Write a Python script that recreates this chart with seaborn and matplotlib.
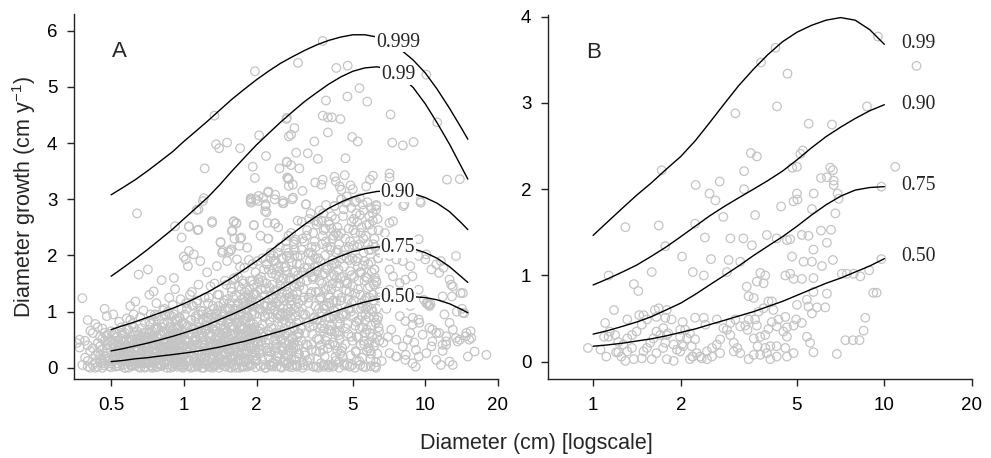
import matplotlib
matplotlib.use("Agg")
import matplotlib.pyplot as plt
import seaborn as sns

# ---------------- Panel A: observed trees ----------------
diam_a = [
    # small stems, below 0.5 cm
    0.37, 0.38, 0.39, 0.40, 0.40, 0.41, 0.42, 0.42, 0.43, 0.43,
    0.44, 0.44, 0.45, 0.45, 0.46, 0.46, 0.47, 0.47, 0.48, 0.48,
    0.49, 0.49, 0.39, 0.41, 0.45, 0.47, 0.40, 0.44, 0.46, 0.48,
    0.37, 0.42, 0.43, 0.49, 0.41, 0.46, 0.38, 0.44, 0.48, 0.36,
    # 0.5 - 0.7 cm
    0.50, 0.51, 0.52, 0.52, 0.53, 0.54, 0.55, 0.55, 0.56, 0.57,
    0.57, 0.58, 0.59, 0.60, 0.60, 0.61, 0.62, 0.62, 0.63, 0.64,
    0.64, 0.65, 0.65, 0.66, 0.67, 0.67, 0.68, 0.68, 0.69, 0.69,
    0.51, 0.53, 0.54, 0.56, 0.58, 0.59, 0.61, 0.63, 0.66, 0.68,
    0.50, 0.52, 0.55, 0.57, 0.60, 0.62, 0.64, 0.66, 0.69, 0.70,
    0.53, 0.56, 0.58, 0.61, 0.63, 0.65, 0.67, 0.70, 0.54, 0.60,
    0.52, 0.55, 0.59, 0.62, 0.64, 0.67, 0.69, 0.58, 0.63, 0.66,
    0.51, 0.57, 0.60, 0.65, 0.68, 0.56, 0.62, 0.70, 0.54, 0.59,
    # 0.7 - 1 cm
    0.71, 0.72, 0.72, 0.73, 0.74, 0.75, 0.75, 0.76, 0.77, 0.78,
    0.79, 0.80, 0.81, 0.81, 0.82, 0.83, 0.84, 0.85, 0.85, 0.86,
    0.87, 0.88, 0.89, 0.90, 0.91, 0.91, 0.92, 0.93, 0.94, 0.95,
    0.96, 0.97, 0.98, 0.99, 0.73, 0.76, 0.79, 0.82, 0.86, 0.89,
    0.92, 0.95, 0.98, 0.71, 0.74, 0.77, 0.80, 0.83, 0.87, 0.90,
    0.93, 0.96, 0.99, 0.72, 0.75, 0.78, 0.81, 0.84, 0.88, 0.91,
    0.94, 0.97, 0.74, 0.77, 0.80, 0.83, 0.86, 0.89, 0.92, 0.95,
    0.98, 0.71, 0.76, 0.79, 0.82, 0.85, 0.88, 0.91, 0.94, 0.97,
    0.73, 0.78, 0.84, 0.90, 0.96, 0.75, 0.81, 0.87, 0.93, 0.99,
    0.72, 0.77, 0.83, 0.89, 0.95, 0.74, 0.80, 0.86, 0.92, 0.98,
    # 1 - 1.5 cm
    1.00, 1.01, 1.02, 1.03, 1.04, 1.05, 1.06, 1.07, 1.08, 1.09,
    1.10, 1.11, 1.12, 1.13, 1.14, 1.15, 1.16, 1.17, 1.18, 1.19,
    1.20, 1.21, 1.22, 1.23, 1.24, 1.25, 1.26, 1.27, 1.28, 1.29,
    1.30, 1.31, 1.32, 1.33, 1.34, 1.35, 1.36, 1.37, 1.38, 1.39,
    1.40, 1.41, 1.42, 1.43, 1.44, 1.45, 1.46, 1.47, 1.48, 1.49,
    1.02, 1.05, 1.08, 1.11, 1.14, 1.17, 1.20, 1.23, 1.26, 1.29,
    1.32, 1.35, 1.38, 1.41, 1.44, 1.47, 1.01, 1.04, 1.07, 1.10,
    1.13, 1.16, 1.19, 1.22, 1.25, 1.28, 1.31, 1.34, 1.37, 1.40,
    1.43, 1.46, 1.49, 1.03, 1.06, 1.09, 1.12, 1.15, 1.18, 1.21,
    1.24, 1.27, 1.30, 1.33, 1.36, 1.39, 1.42, 1.45, 1.48, 1.00,
    1.05, 1.12, 1.19, 1.26, 1.33, 1.40, 1.47, 1.09, 1.23, 1.37,
    # 1.5 - 2 cm
    1.50, 1.51, 1.52, 1.53, 1.54, 1.55, 1.56, 1.57, 1.58, 1.59,
    1.60, 1.61, 1.62, 1.63, 1.64, 1.65, 1.66, 1.67, 1.68, 1.69,
    1.70, 1.71, 1.72, 1.73, 1.74, 1.75, 1.76, 1.77, 1.78, 1.79,
    1.80, 1.81, 1.82, 1.83, 1.84, 1.85, 1.86, 1.87, 1.88, 1.89,
    1.90, 1.91, 1.92, 1.93, 1.94, 1.95, 1.96, 1.97, 1.98, 1.99,
    1.52, 1.55, 1.58, 1.61, 1.64, 1.67, 1.70, 1.73, 1.76, 1.79,
    1.82, 1.85, 1.88, 1.91, 1.94, 1.97, 1.50, 1.53, 1.56, 1.59,
    1.62, 1.65, 1.68, 1.71, 1.74, 1.77, 1.80, 1.83, 1.86, 1.89,
    1.92, 1.95, 1.98, 1.54, 1.60, 1.66, 1.72, 1.78, 1.84, 1.90,
    1.96, 1.57, 1.63, 1.69, 1.75, 1.81, 1.87, 1.93, 1.99, 1.51,
    # 2 - 3 cm
    2.00, 2.02, 2.04, 2.06, 2.08, 2.10, 2.12, 2.14, 2.16, 2.18,
    2.17, 2.20, 2.22, 2.24, 2.26, 2.28, 2.30, 2.32, 2.34, 2.36,
    2.38, 2.39, 2.40, 2.42, 2.44, 2.46, 2.48, 2.50, 2.52, 2.54,
    2.56, 2.58, 2.59, 2.60, 2.62, 2.64, 2.66, 2.67, 2.68, 2.70,
    2.72, 2.74, 2.76, 2.78, 2.80, 2.82, 2.84, 2.86, 2.88, 2.90,
    2.92, 2.94, 2.96, 2.98, 2.01, 2.05, 2.09, 2.13, 2.17, 2.21,
    2.25, 2.29, 2.33, 2.37, 2.41, 2.45, 2.49, 2.53, 2.57, 2.61,
    2.65, 2.69, 2.73, 2.77, 2.81, 2.85, 2.89, 2.93, 2.97, 2.03,
    2.07, 2.11, 2.15, 2.19, 2.23, 2.27, 2.31, 2.35, 2.39, 2.43,
    2.47, 2.51, 2.55, 2.59, 2.63, 2.67, 2.71, 2.75, 2.79, 2.83,
    2.87, 2.91, 2.95, 2.99, 2.04, 2.14, 2.24, 2.34, 2.44, 2.54,
    2.64, 2.74, 2.84, 2.94, 2.08, 2.18, 2.28, 2.38, 2.48, 2.58,
    2.68, 2.78, 2.88, 2.98, 2.12, 2.32, 2.52, 2.72, 2.92, 2.46,
    # 3 - 4.5 cm
    3.00, 3.02, 3.05, 3.08, 3.10, 3.13, 3.15, 3.18, 3.20, 3.23,
    3.25, 3.28, 3.30, 3.33, 3.35, 3.38, 3.40, 3.43, 3.45, 3.48,
    3.50, 3.53, 3.55, 3.58, 3.60, 3.63, 3.65, 3.68, 3.70, 3.73,
    3.75, 3.78, 3.80, 3.83, 3.85, 3.88, 3.90, 3.93, 3.95, 3.98,
    4.00, 4.03, 4.05, 4.08, 4.10, 4.13, 4.15, 4.18, 4.20, 4.23,
    4.25, 4.28, 4.30, 4.33, 4.35, 4.38, 4.40, 4.43, 4.45, 4.48,
    3.01, 3.07, 3.12, 3.17, 3.22, 3.27, 3.32, 3.37, 3.42, 3.47,
    3.52, 3.57, 3.62, 3.67, 3.72, 3.77, 3.82, 3.87, 3.92, 3.97,
    4.02, 4.07, 4.12, 4.17, 4.22, 4.27, 4.32, 4.37, 4.42, 4.47,
    3.04, 3.14, 3.24, 3.34, 3.44, 3.54, 3.64, 3.74, 3.84, 3.94,
    4.04, 4.14, 4.24, 4.34, 4.44, 3.09, 3.29, 3.49, 3.69, 3.89,
    4.09, 4.29, 4.49, 3.19, 3.39, 3.59, 3.79, 3.99, 4.19, 4.39,
    # 4.5 - 6.5 cm
    4.50, 4.53, 4.56, 4.60, 4.63, 4.66, 4.70, 4.73, 4.76, 4.80,
    4.83, 4.86, 4.90, 4.93, 4.96, 5.00, 5.03, 5.06, 5.10, 5.13,
    5.16, 5.20, 5.23, 5.26, 5.30, 5.33, 5.36, 5.40, 5.43, 5.46,
    5.50, 5.53, 5.56, 5.60, 5.63, 5.66, 5.70, 5.73, 5.76, 5.80,
    5.83, 5.86, 5.90, 5.93, 5.96, 6.00, 6.03, 6.06, 6.10, 6.13,
    6.16, 6.20, 6.23, 6.26, 6.30, 6.33, 6.36, 6.40, 6.43, 6.46,
    4.55, 4.65, 4.75, 4.85, 4.95, 5.05, 5.15, 5.25, 5.35, 5.45,
    5.55, 5.65, 5.75, 5.85, 5.95, 6.05, 6.15, 6.25, 6.35, 6.45,
    4.58, 4.68, 4.78, 4.88, 4.98, 5.08, 5.18, 5.28, 5.38, 5.48,
    5.58, 5.68, 5.78, 5.88, 5.98, 6.08, 6.18, 6.28, 6.38, 6.48,
    4.52, 4.72, 4.92, 5.12, 5.32, 5.52, 5.72, 5.92, 6.12, 6.32,
    # large stems, above 6.5 cm
    10.1, 11.1, 11.6, 10.6, 11.4, 12.6, 13.0, 14.0, 10.1, 10.7,
    11.1, 12.2, 13.0, 13.9, 14.8, 15.5, 16.0, 17.9, 11.6, 13.0,
    10.6, 12.2, 12.6, 7.84, 8.27, 8.85, 9.39, 7.23, 7.59, 8.07,
    8.66, 8.85, 9.12, 7.11, 7.59, 8.27, 9.39, 7.11, 7.35, 7.84,
    8.27, 8.85, 8.66, 8.07, 7.59, 7.11, 7.47, 8.07, 9.39, 7.11,
    7.59, 8.07, 8.66, 9.87, 9.39, 9.39, 6.70, 6.90, 10.3, 10.4,
    12.0, 14.5, 13.5, 15.0, 6.60, 6.80, 7.00, 9.00, 11.8, 14.2,
    15.4, 14.7, 15.2, 13.4, 13.6, 12.8, 11.9, 13.4, 10.0, 12.9,
    14.3, 11.8, 8.87, 9.45, 10.4, 11.4, 10.7, 11.8, 9.75, 8.45,
    9.15, 10.1, 11.1, 12.6, 8.30, 7.57, 10.2, 10.5, 14.3, 12.2,
    # zero-growth row along the bottom
    0.40, 0.43, 0.47, 0.50, 0.53, 0.57, 0.61, 0.65, 0.69, 0.73,
    0.77, 0.81, 0.85, 0.89, 0.94, 0.99, 1.04, 1.09, 1.15, 1.21,
    1.27, 1.33, 1.40, 1.47, 1.54, 1.62, 1.70, 1.79, 1.88, 1.98,
    2.08, 2.19, 2.30, 2.42, 2.54, 2.67, 2.81, 2.95, 3.10, 3.26,
    3.43, 3.60, 3.79, 3.98, 4.18, 4.40, 4.62, 4.86, 5.11, 5.37,
    5.65, 5.94, 6.25, 0.45, 0.60, 0.83, 1.12, 1.50, 2.00, 2.70,
    # fast growers above the main cloud
    1.97, 1.34, 1.36, 1.40, 1.51, 1.71, 2.05, 2.19, 1.22, 1.93,
    1.97, 2.67, 2.72, 2.67, 2.49, 2.72, 2.72, 2.24, 2.39, 2.04,
    1.89, 1.21, 3.76, 2.97, 4.28, 4.77, 5.34, 5.75, 4.76, 3.88,
    3.76, 3.95, 4.10, 4.45, 7.18, 2.66, 2.87, 2.78, 3.95, 3.47,
    4.98, 5.25, 7.30, 8.07, 8.94, 11.2, 10.1, 2.92, 3.26, 3.59,
    2.67, 2.78, 3.01, 4.67, 4.21, 4.64, 3.76, 4.26, 2.68, 2.83,
    3.71, 4.42, 4.49, 5.01, 5.69, 6.07, 7.11, 7.11, 12.3, 13.9,
    9.51, 8.10, 4.90, 2.57, 2.83, 3.21, 4.21, 4.49, 4.70, 5.17,
    5.51, 6.27, 7.00, 8.19, 9.58, 7.10, 7.35, 3.10, 3.50, 5.90,
    2.81, 2.57, 2.38, 2.23, 2.13, 2.03, 1.90, 1.90, 2.18, 2.20,
    2.38, 1.95, 2.23, 1.61, 1.65, 1.59, 1.31, 1.15, 1.20, 0.92,
    1.05, 1.15, 0.98, 1.42, 1.62, 1.73, 1.70, 1.57, 1.45, 2.70,
]
growth_a = [
    # small stems, below 0.5 cm
    0.36, 1.24, 0.48, 0.85, 0.12, 0.30, 0.62, 0.05, 0.78, 0.22,
    0.44, 0.02, 0.55, 0.16, 0.70, 0.33, 0.08, 0.48, 0.92, 0.26,
    0.60, 0.03, 0.18, 0.66, 0.38, 1.05, 0.40, 0.72, 0.12, 0.42,
    0.50, 0.35, 0.10, 0.18, 0.00, 0.00, 0.05, 0.27, 0.58, 0.44,
    # 0.5 - 0.7 cm
    0.08, 0.95, 0.30, 0.02, 0.55, 0.18, 0.72, 0.40, 0.05, 0.26,
    0.62, 0.12, 0.45, 0.85, 0.20, 0.03, 0.35, 0.58, 1.18, 0.10,
    2.75, 0.48, 1.66, 0.25, 0.07, 0.70, 0.40, 1.02, 0.15, 0.55,
    0.42, 0.15, 0.82, 0.35, 0.50, 0.00, 0.78, 0.22, 0.90, 0.30,
    0.65, 0.48, 0.10, 0.00, 0.38, 0.12, 0.65, 0.00, 0.80, 0.20,
    0.32, 0.60, 0.25, 0.50, 0.04, 0.32, 0.55, 0.45, 0.03, 1.10,
    0.20, 0.28, 0.68, 0.08, 0.45, 0.18, 0.02, 0.88, 0.62, 0.15,
    0.58, 0.45, 0.05, 0.08, 0.62, 0.18, 0.95, 0.08, 0.38, 0.30,
    # 0.7 - 1 cm
    1.75, 0.10, 1.30, 0.45, 0.02, 1.36, 0.30, 0.68, 0.15, 0.52,
    0.85, 0.05, 1.56, 0.38, 0.20, 0.62, 0.95, 0.12, 0.48, 0.28,
    0.72, 0.00, 0.40, 1.12, 1.60, 0.18, 0.55, 0.08, 0.85, 0.32,
    0.60, 0.15, 1.05, 0.42, 0.78, 0.25, 0.35, 1.02, 0.06, 0.65,
    0.25, 0.50, 0.02, 0.55, 0.40, 0.92, 0.60, 0.10, 1.25, 0.30,
    0.70, 0.88, 0.20, 0.22, 0.58, 0.02, 0.72, 0.35, 0.50, 0.95,
    0.12, 0.45, 0.18, 1.15, 0.40, 0.50, 0.82, 0.14, 1.40, 0.05,
    0.65, 0.08, 0.12, 0.22, 0.78, 0.30, 0.60, 0.42, 0.28, 1.22,
    0.95, 0.30, 0.15, 0.02, 0.35, 0.85, 0.05, 0.38, 0.62, 0.80,
    0.62, 0.70, 1.05, 0.92, 0.70, 0.00, 0.25, 1.00, 0.45, 0.10,
    # 1 - 1.5 cm
    0.05, 0.62, 1.93, 0.28, 1.81, 2.51, 0.12, 0.85, 0.40, 1.10,
    2.02, 0.02, 0.55, 2.81, 2.45, 0.30, 0.72, 1.90, 0.18, 0.95,
    0.45, 0.08, 1.25, 0.65, 0.22, 1.70, 0.38, 0.88, 0.02, 1.45,
    0.58, 2.58, 0.15, 1.05, 0.32, 0.75, 0.05, 1.81, 0.48, 0.20,
    1.30, 0.62, 2.23, 0.10, 2.05, 0.42, 0.95, 0.25, 1.55, 0.70,
    0.35, 0.15, 1.35, 0.48, 0.02, 0.52, 1.00, 0.12, 1.15, 0.30,
    0.80, 0.05, 1.02, 0.18, 0.58, 1.20, 0.78, 0.45, 0.00, 0.25,
    1.15, 0.08, 0.62, 0.40, 0.90, 0.55, 0.00, 1.50, 0.28, 0.85,
    0.35, 0.12, 0.02, 1.05, 1.30, 0.20, 0.88, 1.48, 0.68, 0.35,
    0.05, 0.18, 0.95, 0.42, 0.65, 1.10, 0.45, 0.82, 0.38, 1.98,
    2.08, 0.50, 0.00, 0.60, 0.02, 0.08, 0.50, 0.68, 0.75, 0.40,
    # 1.5 - 2 cm
    0.10, 1.90, 0.55, 2.06, 0.28, 1.05, 2.08, 0.72, 2.43, 0.40,
    1.25, 2.60, 0.05, 0.88, 0.35, 2.58, 1.93, 0.15, 1.62, 0.60,
    0.95, 2.30, 0.22, 1.40, 0.02, 0.68, 1.15, 0.45, 1.78, 0.30,
    0.82, 0.12, 1.05, 2.14, 0.50, 1.30, 0.08, 0.62, 1.55, 2.97,
    0.38, 1.20, 0.70, 0.18, 1.48, 2.54, 0.95, 0.28, 1.70, 3.00,
    0.80, 0.20, 1.35, 0.58, 0.00, 1.10, 0.42, 0.75, 0.02, 1.02,
    0.25, 0.90, 0.45, 0.05, 0.65, 1.32, 1.48, 0.30, 0.92, 0.15,
    1.60, 0.48, 0.12, 1.80, 1.22, 0.10, 0.55, 1.38, 1.92, 0.35,
    1.00, 0.40, 0.12, 1.15, 0.30, 0.78, 0.55, 1.25, 0.02, 0.68,
    0.55, 0.00, 1.05, 0.25, 1.55, 0.40, 1.12, 1.85, 0.22, 0.65,
    # 2 - 3 cm
    0.15, 1.90, 0.65, 1.20, 2.35, 0.40, 1.55, 0.05, 0.90, 2.91,
    2.79, 1.84, 2.58, 2.30, 0.28, 1.05, 0.72, 1.68, 0.10, 0.48,
    1.38, 2.57, 1.90, 0.20, 0.95, 1.80, 0.55, 2.15, 0.02, 1.25,
    0.35, 1.60, 2.93, 0.85, 0.12, 1.45, 2.25, 1.99, 0.62, 1.05,
    0.30, 1.95, 0.78, 2.40, 1.20, 0.05, 1.70, 0.45, 2.10, 0.92,
    1.50, 0.18, 2.62, 1.15, 0.82, 0.25, 1.40, 0.62, 0.00, 1.10,
    0.50, 2.05, 0.90, 0.08, 1.65, 0.60, 1.10, 0.38, 1.95, 0.70,
    0.22, 1.35, 0.02, 1.00, 0.55, 2.20, 0.15, 0.80, 0.40, 0.45,
    1.05, 0.15, 1.75, 0.35, 0.95, 0.05, 1.30, 2.00, 0.62, 1.15,
    0.25, 1.45, 0.80, 0.10, 1.80, 0.40, 2.35, 0.65, 0.28, 1.30,
    1.05, 2.28, 0.02, 0.60, 1.58, 0.55, 0.20, 1.22, 0.12, 0.50,
    0.95, 1.55, 0.35, 1.85, 0.48, 1.40, 1.95, 0.30, 1.72, 1.10,
    0.08, 0.15, 0.68, 0.25, 1.00, 0.02, 0.95, 1.25, 0.05, 2.50,
    # 3 - 4.5 cm
    0.25, 1.85, 0.70, 2.60, 1.20, 0.05, 2.25, 0.95, 2.91, 1.55,
    0.40, 2.05, 1.00, 0.15, 2.75, 1.35, 0.60, 2.40, 0.02, 1.80,
    1.10, 0.30, 2.55, 0.85, 1.95, 0.50, 2.80, 1.25, 0.08, 2.20,
    1.65, 0.65, 2.45, 0.20, 1.40, 2.90, 0.90, 1.75, 0.35, 2.60,
    1.15, 0.05, 2.10, 0.75, 2.70, 1.50, 0.45, 2.35, 2.88, 1.00,
    0.20, 1.85, 0.62, 2.50, 1.30, 0.10, 2.20, 0.88, 1.60, 3.00,
    1.45, 0.48, 1.70, 0.28, 2.35, 0.80, 1.90, 0.42, 1.58, 0.90,
    2.15, 0.15, 1.35, 0.70, 2.62, 0.32, 1.05, 2.25, 0.55, 1.30,
    0.42, 1.62, 0.02, 1.20, 0.65, 2.05, 0.30, 1.75, 0.50, 2.40,
    2.00, 1.40, 0.12, 1.70, 0.75, 0.02, 1.55, 0.98, 2.00, 0.05,
    0.88, 1.92, 0.12, 1.05, 0.78, 0.10, 1.25, 2.62, 0.40, 1.10,
    2.48, 1.45, 0.30, 0.62, 2.15, 1.80, 0.02, 0.68, 1.85, 0.58,
    # 4.5 - 6.5 cm
    1.25, 0.35, 2.70, 1.80, 0.08, 2.30, 0.95, 3.05, 1.50, 0.60,
    2.15, 1.05, 0.22, 2.85, 1.65, 0.48, 2.45, 1.20, 2.95, 0.75,
    1.90, 0.12, 2.60, 1.40, 0.85, 2.20, 3.02, 0.40, 1.70, 2.50,
    1.10, 0.02, 2.80, 1.55, 0.62, 2.35, 1.25, 0.30, 2.95, 1.85,
    0.90, 2.55, 1.45, 0.15, 2.10, 1.70, 0.55, 2.75, 1.20, 0.38,
    2.30, 1.60, 0.80, 2.90, 1.05, 0.25, 1.95, 2.45, 0.65, 1.35,
    0.20, 1.55, 0.05, 1.35, 2.60, 0.92, 0.30, 1.95, 0.70, 1.15,
    2.05, 0.85, 1.60, 0.45, 2.85, 1.00, 1.75, 0.10, 2.65, 0.48,
    2.00, 0.70, 1.22, 2.25, 0.05, 1.62, 2.75, 0.55, 1.30, 0.18,
    0.42, 1.05, 2.20, 1.25, 0.75, 2.20, 0.02, 1.52, 0.90, 2.05,
    0.95, 1.95, 1.00, 2.40, 0.12, 1.82, 0.68, 0.30, 1.48, 0.55,
    # large stems, above 6.5 cm
    2.02, 1.84, 1.90, 1.75, 1.69, 1.57, 1.45, 1.33, 1.15, 0.68,
    0.62, 0.56, 0.68, 0.50, 0.62, 0.53, 0.29, 0.23, 0.05, 0.05,
    0.38, 0.47, 0.80, 0.92, 0.83, 0.77, 0.86, 0.68, 0.50, 0.38,
    0.62, 0.08, 0.02, 0.26, 0.20, 0.14, 0.20, 1.75, 1.63, 1.51,
    1.57, 1.63, 1.81, 1.90, 1.93, 1.99, 2.17, 2.05, 1.99, 1.39,
    1.21, 1.33, 1.10, 1.21, 1.39, 2.29, 0.45, 1.05, 1.12, 1.10,
    0.95, 0.97, 1.00, 0.20, 0.12, 2.40, 0.55, 0.45, 0.30, 1.05,
    0.65, 0.56, 0.50, 0.53, 0.47, 1.48, 1.78, 1.99, 1.93, 1.27,
    1.33, 1.27, 0.89, 0.80, 0.71, 0.62, 0.47, 0.41, 0.59, 0.50,
    0.32, 0.26, 0.14, 0.11, 0.23, 0.20, 1.15, 1.13, 0.98, 0.41,
    # zero-growth row along the bottom
    0.02, 0.00, 0.04, 0.01, 0.03, 0.00, 0.05, 0.02, 0.00, 0.04,
    0.01, 0.03, 0.00, 0.05, 0.02, 0.00, 0.03, 0.01, 0.04, 0.00,
    0.02, 0.05, 0.00, 0.03, 0.01, 0.04, 0.00, 0.02, 0.05, 0.01,
    0.03, 0.00, 0.04, 0.02, 0.00, 0.05, 0.01, 0.03, 0.00, 0.04,
    0.02, 0.00, 0.05, 0.01, 0.03, 0.00, 0.04, 0.02, 0.00, 0.05,
    0.01, 0.03, 0.00, 0.10, 0.12, 0.10, 0.12, 0.10, 0.12, 0.10,
    # fast growers above the main cloud
    5.28, 4.49, 3.98, 3.91, 4.01, 3.91, 4.14, 3.77, 3.55, 3.58,
    3.38, 4.45, 4.12, 3.66, 3.55, 3.36, 3.24, 3.14, 3.08, 3.06,
    3.02, 3.02, 5.82, 5.43, 5.34, 5.38, 4.98, 4.74, 4.83, 4.76,
    4.49, 4.46, 4.46, 4.43, 4.51, 4.43, 4.27, 4.15, 4.19, 4.03,
    4.11, 4.03, 4.01, 3.96, 4.02, 4.37, 5.22, 3.83, 3.82, 3.72,
    3.67, 3.61, 3.55, 3.73, 3.40, 3.43, 3.35, 3.32, 3.39, 3.26,
    3.26, 3.23, 3.17, 3.18, 3.23, 3.42, 3.46, 3.39, 3.35, 3.36,
    2.97, 2.88, 3.25, 2.97, 3.03, 2.91, 2.88, 3.00, 2.94, 2.97,
    2.91, 2.88, 2.97, 2.91, 2.94, 2.58, 2.61, 3.15, 3.30, 3.35,
    3.00, 2.93, 3.00, 3.12, 3.03, 2.97, 3.00, 2.94, 2.88, 2.77,
    2.57, 2.54, 2.30, 2.61, 2.57, 2.45, 2.61, 2.82, 2.97, 2.52,
    2.52, 2.46, 2.32, 2.24, 2.30, 2.32, 2.17, 2.11, 2.08, 3.37,
]

# The crowded core of slow growers (0.45 - 6.5 cm)
diam_a_core = [
    0.45, 0.46, 0.47, 0.48, 0.49, 0.50, 0.51, 0.52, 0.53, 0.54,
    0.55, 0.56, 0.57, 0.58, 0.59, 0.60, 0.61, 0.62, 0.63, 0.64,
    0.65, 0.66, 0.67, 0.68, 0.69, 0.70, 0.47, 0.50, 0.53, 0.56,
    0.59, 0.62, 0.65, 0.68, 0.51, 0.55, 0.60, 0.64, 0.69, 0.57,
    0.52, 0.58, 0.63, 0.67, 0.54, 0.61, 0.66, 0.49, 0.56, 0.70,
    0.70, 0.71, 0.72, 0.73, 0.74, 0.75, 0.76, 0.77, 0.78, 0.79,
    0.80, 0.81, 0.82, 0.83, 0.84, 0.85, 0.86, 0.87, 0.88, 0.89,
    0.90, 0.91, 0.92, 0.93, 0.94, 0.95, 0.96, 0.97, 0.98, 0.99,
    0.72, 0.75, 0.78, 0.81, 0.84, 0.87, 0.90, 0.93, 0.96, 0.99,
    0.71, 0.74, 0.77, 0.80, 0.83, 0.86, 0.89, 0.92, 0.95, 0.98,
    0.73, 0.76, 0.79, 0.82, 0.85, 0.88, 0.91, 0.94, 0.97, 1.00,
    1.00, 1.02, 1.04, 1.06, 1.08, 1.10, 1.12, 1.14, 1.16, 1.18,
    1.20, 1.22, 1.24, 1.26, 1.28, 1.30, 1.32, 1.34, 1.36, 1.38,
    1.40, 1.42, 1.44, 1.46, 1.48, 1.01, 1.03, 1.05, 1.07, 1.09,
    1.11, 1.13, 1.15, 1.17, 1.19, 1.21, 1.23, 1.25, 1.27, 1.29,
    1.31, 1.33, 1.35, 1.37, 1.39, 1.41, 1.43, 1.45, 1.47, 1.49,
    1.02, 1.06, 1.10, 1.14, 1.18, 1.22, 1.26, 1.30, 1.34, 1.38,
    1.42, 1.46, 1.04, 1.12, 1.20, 1.28, 1.36, 1.44, 1.08, 1.32,
    1.50, 1.52, 1.54, 1.56, 1.58, 1.60, 1.62, 1.64, 1.66, 1.68,
    1.70, 1.72, 1.74, 1.76, 1.78, 1.80, 1.82, 1.84, 1.86, 1.88,
    1.90, 1.92, 1.94, 1.96, 1.98, 1.51, 1.53, 1.55, 1.57, 1.59,
    1.61, 1.63, 1.65, 1.67, 1.69, 1.71, 1.73, 1.75, 1.77, 1.79,
    1.81, 1.83, 1.85, 1.87, 1.89, 1.91, 1.93, 1.95, 1.97, 1.99,
    1.52, 1.56, 1.60, 1.64, 1.68, 1.72, 1.76, 1.80, 1.84, 1.88,
    1.92, 1.96, 1.54, 1.62, 1.70, 1.78, 1.86, 1.94, 1.58, 1.74,
    2.00, 2.03, 2.06, 2.09, 2.12, 2.15, 2.18, 2.21, 2.24, 2.27,
    2.30, 2.33, 2.36, 2.39, 2.42, 2.45, 2.48, 2.51, 2.54, 2.57,
    2.60, 2.63, 2.66, 2.69, 2.72, 2.75, 2.78, 2.81, 2.84, 2.87,
    2.90, 2.93, 2.96, 2.99, 2.02, 2.07, 2.12, 2.17, 2.22, 2.27,
    2.32, 2.37, 2.42, 2.47, 2.52, 2.57, 2.62, 2.67, 2.72, 2.77,
    2.82, 2.87, 2.92, 2.97, 2.05, 2.15, 2.25, 2.35, 2.45, 2.55,
    2.65, 2.75, 2.85, 2.95, 2.10, 2.20, 2.30, 2.40, 2.50, 2.60,
    2.70, 2.80, 2.90, 2.00, 2.35, 2.65, 2.95, 2.45, 2.25, 2.85,
    3.00, 3.04, 3.08, 3.12, 3.16, 3.20, 3.24, 3.28, 3.32, 3.36,
    3.40, 3.44, 3.48, 3.52, 3.56, 3.60, 3.64, 3.68, 3.72, 3.76,
    3.80, 3.84, 3.88, 3.92, 3.96, 4.00, 4.04, 4.08, 4.12, 4.16,
    4.20, 4.24, 4.28, 4.32, 4.36, 4.40, 4.44, 4.48, 3.02, 3.14,
    3.26, 3.38, 3.50, 3.62, 3.74, 3.86, 3.98, 4.10, 4.22, 4.34,
    4.46, 3.10, 3.30, 3.46, 3.66, 3.82, 4.02, 4.26, 4.42, 3.56,
    3.18, 3.34, 3.54, 3.70, 3.90, 4.06, 4.18, 4.30, 3.42, 3.78,
    4.52, 4.58, 4.64, 4.70, 4.76, 4.82, 4.88, 4.94, 5.00, 5.06,
    5.12, 5.18, 5.24, 5.30, 5.36, 5.42, 5.48, 5.54, 5.60, 5.66,
    5.72, 5.78, 5.84, 5.90, 5.96, 6.02, 6.08, 6.14, 6.20, 6.26,
    6.32, 6.38, 6.44, 4.60, 4.80, 5.00, 5.20, 5.40, 5.60, 5.80,
    6.00, 6.20, 6.40, 4.66, 4.86, 5.06, 5.26, 5.46, 5.66, 5.86,
    6.06, 6.26, 4.74, 4.96, 5.16, 5.36, 5.56, 5.76, 5.96, 6.16,
]
growth_a_core = [
    0.22, 0.52, 0.15, 0.35, 0.46, 0.28, 0.20, 0.62, 0.42, 0.30,
    0.52, 0.14, 0.36, 0.68, 0.22, 0.48, 0.26, 0.72, 0.30, 0.52,
    0.20, 0.42, 0.30, 0.12, 0.38, 0.62, 0.62, 0.48, 0.08, 0.48,
    0.10, 0.42, 0.58, 0.50, 0.12, 0.62, 0.30, 0.35, 0.25, 0.20,
    0.38, 0.40, 0.12, 0.45, 0.25, 0.15, 0.08, 0.12, 0.28, 0.35,
    0.12, 0.35, 0.62, 0.18, 0.50, 0.08, 0.42, 0.28, 0.70, 0.45,
    0.15, 0.58, 0.35, 0.80, 0.25, 0.65, 0.45, 0.12, 0.72, 0.28,
    0.55, 0.08, 0.38, 0.48, 0.18, 0.75, 0.25, 0.60, 0.35, 0.12,
    0.82, 0.20, 0.55, 0.22, 0.48, 0.95, 0.68, 0.28, 0.90, 0.58,
    0.28, 0.65, 0.40, 0.35, 0.12, 0.20, 0.50, 0.85, 0.42, 0.78,
    0.55, 0.95, 0.08, 0.65, 0.38, 0.40, 0.30, 0.60, 0.05, 0.40,
    0.22, 0.48, 0.75, 0.35, 0.60, 0.15, 0.92, 0.42, 0.28, 0.68,
    0.55, 0.30, 0.82, 0.12, 0.62, 0.40, 1.10, 0.20, 0.88, 0.58,
    0.35, 0.75, 0.22, 0.62, 1.05, 0.95, 0.18, 0.62, 0.85, 0.48,
    0.32, 0.65, 0.95, 0.12, 0.42, 0.72, 0.50, 0.30, 1.25, 0.45,
    0.70, 0.22, 0.50, 0.95, 0.15, 0.52, 0.85, 0.28, 0.72, 0.45,
    1.15, 0.28, 0.70, 1.20, 1.02, 0.18, 0.98, 0.15, 0.68, 1.30,
    0.05, 1.15, 0.38, 0.10, 0.85, 0.35, 0.42, 1.00, 1.12, 0.90,
    0.62, 0.35, 0.88, 0.45, 0.18, 0.75, 0.42, 1.02, 0.58, 0.28,
    0.70, 1.05, 0.48, 0.85, 0.25, 1.18, 0.65, 0.92, 0.38, 1.12,
    0.55, 0.25, 1.30, 0.72, 0.48, 1.22, 0.80, 0.50, 1.42, 0.95,
    0.22, 0.62, 1.28, 0.80, 1.45, 0.15, 1.00, 0.38, 0.60, 1.35,
    0.48, 0.30, 0.65, 1.40, 0.80, 0.95, 0.45, 1.10, 0.62, 0.32,
    1.05, 0.08, 1.58, 0.20, 1.15, 0.60, 1.50, 0.88, 1.25, 0.55,
    1.55, 1.30, 0.40, 0.92, 0.82, 0.72, 0.15, 0.78, 0.58, 0.25,
    0.55, 1.05, 0.32, 1.62, 0.78, 1.28, 0.45, 1.85, 0.65, 1.42,
    0.28, 1.12, 1.75, 0.52, 1.38, 0.88, 1.62, 0.62, 1.95, 0.30,
    1.20, 0.58, 1.72, 0.95, 0.48, 1.60, 1.12, 1.88, 0.72, 1.45,
    0.35, 1.22, 1.98, 0.85, 1.35, 0.70, 1.95, 0.92, 0.30, 0.82,
    1.48, 1.02, 0.42, 1.18, 1.55, 0.98, 0.45, 1.30, 2.05, 0.88,
    0.52, 2.00, 1.08, 1.65, 1.52, 1.10, 1.75, 0.70, 2.05, 1.35,
    0.78, 1.25, 1.58, 0.55, 0.60, 1.50, 1.10, 0.35, 0.92, 1.78,
    0.22, 0.40, 1.72, 1.15, 1.90, 2.12, 1.35, 0.20, 1.22, 2.25,
    0.62, 1.52, 2.10, 0.95, 1.78, 0.42, 2.45, 1.15, 0.72, 2.05,
    1.62, 0.88, 2.25, 1.35, 0.52, 2.60, 1.22, 1.90, 0.75, 2.35,
    1.10, 1.68, 0.48, 2.15, 1.45, 2.55, 0.65, 1.40, 2.30, 0.92,
    1.65, 2.65, 1.18, 0.80, 2.35, 1.50, 0.25, 1.95, 1.00, 1.25,
    1.78, 0.32, 1.95, 1.05, 1.50, 2.48, 0.90, 1.82, 0.40, 2.10,
    1.20, 2.30, 2.65, 1.62, 0.28, 0.70, 1.25, 2.40, 0.65, 1.72,
    0.22, 1.32, 0.85, 1.25, 1.78, 2.15, 1.02, 1.60, 2.00, 2.75,
    1.62, 0.95, 2.10, 1.38, 0.78, 2.48, 1.72, 0.55, 1.95, 2.65,
    1.32, 0.82, 2.15, 1.55, 2.72, 1.05, 0.72, 2.30, 1.90, 0.95,
    2.55, 1.42, 2.10, 0.62, 1.88, 2.45, 1.30, 0.90, 2.15, 1.55,
    0.85, 1.95, 1.25, 2.82, 1.05, 1.45, 0.55, 2.40, 1.20, 0.35,
    1.05, 0.45, 0.72, 0.42, 1.92, 2.18, 1.80, 0.92, 1.62, 2.70,
    2.62, 2.82, 1.50, 1.15, 0.28, 1.70, 0.48, 1.08, 0.25, 1.75,
]

# Quantile-regression curves, panel A (read every 0.05 in log10 diameter)
qa_diam = [0.50, 0.56, 0.63, 0.71, 0.80, 0.90, 1.00, 1.12, 1.26, 1.41,
           1.58, 1.78, 2.00, 2.24, 2.51, 2.82, 3.16, 3.55, 3.98, 4.47,
           5.01, 5.62, 6.31, 7.08, 7.94, 8.91, 10.0, 11.2, 12.6, 14.1, 15.0]
qa_999 = [3.08, 3.21, 3.35, 3.51, 3.68, 3.85, 4.03, 4.21, 4.40, 4.59,
          4.78, 4.96, 5.13, 5.28, 5.42, 5.54, 5.65, 5.75, 5.83, 5.89,
          5.93, 5.93, 5.89, 5.80, 5.66, 5.48, 5.25, 4.96, 4.62, 4.27, 4.07]
qa_99 = [1.63, 1.78, 1.94, 2.11, 2.29, 2.47, 2.65, 2.84, 3.04, 3.26,
         3.50, 3.74, 3.97, 4.17, 4.37, 4.56, 4.74, 4.90, 5.05, 5.18,
         5.28, 5.34, 5.36, 5.31, 5.19, 4.99, 4.70, 4.36, 3.98, 3.58, 3.36]
qa_90 = [0.68, 0.75, 0.82, 0.90, 0.98, 1.06, 1.14, 1.24, 1.35, 1.47,
         1.60, 1.75, 1.90, 2.06, 2.22, 2.39, 2.55, 2.70, 2.84, 2.95,
         3.04, 3.10, 3.14, 3.15, 3.14, 3.10, 3.03, 2.93, 2.78, 2.58, 2.46]
qa_75 = [0.30, 0.34, 0.39, 0.44, 0.50, 0.56, 0.62, 0.69, 0.77, 0.86,
         0.95, 1.05, 1.16, 1.28, 1.40, 1.53, 1.66, 1.79, 1.90, 1.99,
         2.07, 2.12, 2.15, 2.16, 2.15, 2.12, 2.05, 1.95, 1.80, 1.62, 1.52]
qa_50 = [0.11, 0.13, 0.16, 0.18, 0.21, 0.235, 0.26, 0.29, 0.33, 0.37,
         0.42, 0.47, 0.53, 0.59, 0.65, 0.72, 0.80, 0.88, 0.96, 1.04,
         1.11, 1.17, 1.22, 1.25, 1.265, 1.265, 1.25, 1.21, 1.14, 1.04, 0.98]
qa_names = ["0.999", "0.99", "0.90", "0.75", "0.50"]
qa_label_x = 7.7
qa_label_y = [5.80, 5.22, 3.13, 2.14, 1.245]

# ---------------- Panel B ----------------
diam_b = [
    9.51, 12.9, 3.77, 4.23, 4.65, 4.28, 3.08, 5.50, 6.61, 8.72,
    10.9, 3.48, 3.65, 5.25, 5.15, 4.83, 5.01, 6.52, 6.66, 6.06,
    6.35, 6.70, 6.70, 6.91, 6.97, 6.79, 5.72, 5.01, 4.88, 5.03,
    5.64, 4.42, 3.60, 3.30, 3.30, 2.72, 2.51, 2.63, 2.25, 1.72,
    2.80, 1.29, 1.68, 2.24, 6.06, 6.56, 9.77, 9.77,
    2.96, 3.28, 3.51, 3.95, 4.27, 4.63, 4.75, 5.21, 5.49, 5.71,
    6.35, 1.77, 2.42, 2.54, 2.02, 2.20, 2.40, 2.92, 2.88, 3.20,
    3.75, 3.90, 4.82, 5.28, 5.64, 6.11, 6.66, 1.13, 1.59, 1.38,
    1.43, 3.37, 3.42, 3.56, 3.65, 3.85, 4.00, 4.57, 4.75, 4.88,
    5.21, 5.71, 5.71, 6.27, 6.35, 7.15, 7.44, 7.85, 8.27, 8.87,
    9.16, 9.41, 8.60, 8.49, 8.22, 7.80, 7.35, 6.87, 5.71, 5.56,
    5.42, 5.21, 4.98, 4.88, 4.63, 4.63, 4.33, 4.27, 4.11, 4.00,
    3.90, 3.75, 3.65, 3.60, 3.42, 3.39, 3.33, 3.56, 3.67, 3.90,
    4.06, 4.27, 4.57, 4.63, 4.27, 4.06, 3.75, 3.56, 3.42, 3.20,
    3.04, 3.13, 3.04, 2.96, 2.88, 2.73, 2.66, 2.73, 2.56, 2.46,
    2.36, 2.27, 2.20, 2.18, 2.24, 2.15, 2.10, 2.07, 2.04, 1.94,
    1.89, 1.77, 1.74, 1.81, 1.74, 1.65, 1.61, 1.57, 1.53, 1.49,
    1.47, 1.59, 1.65, 1.79, 1.89, 2.02, 1.99, 2.03, 1.86, 1.77,
    1.65, 1.53, 1.47, 1.41, 1.36, 1.31, 1.27, 1.31, 1.22, 1.19,
    1.14, 1.10, 1.13, 1.18, 1.31, 1.44, 1.49, 1.63, 1.68, 1.79,
    2.24, 2.40, 2.43, 2.66, 2.80, 2.96, 3.08, 3.20, 2.56, 2.46,
    2.33, 2.15, 2.19, 1.99, 1.79, 1.70, 1.36, 1.38, 1.29, 1.22,
    1.20, 1.11, 1.06, 0.96, 1.09, 3.95, 4.88, 5.64, 5.87, 5.01,
    5.42, 5.49, 4.57, 4.50, 4.11, 3.70, 3.85, 4.16, 1.99, 1.25,
]
growth_b = [
    3.77, 3.43, 3.47, 3.64, 3.34, 2.96, 2.88, 2.76, 2.75, 2.96,
    2.26, 2.42, 2.38, 2.45, 2.41, 2.25, 2.26, 2.25, 2.22, 2.13,
    2.14, 2.10, 2.05, 1.95, 1.89, 1.72, 1.95, 1.95, 1.86, 1.88,
    1.77, 1.80, 1.70, 2.00, 2.21, 2.09, 1.95, 1.87, 2.05, 2.22,
    1.68, 1.56, 1.58, 1.60, 1.52, 1.53, 2.03, 1.19,
    1.43, 1.43, 1.35, 1.47, 1.43, 1.41, 1.42, 1.47, 1.46, 1.30,
    1.38, 1.34, 1.44, 1.19, 1.22, 1.04, 1.00, 1.18, 1.04, 1.16,
    1.03, 1.00, 1.22, 1.16, 1.16, 1.11, 1.18, 1.00, 1.04, 0.90,
    0.82, 0.87, 0.76, 0.74, 0.93, 0.91, 0.70, 1.00, 1.02, 0.96,
    0.96, 0.97, 0.81, 0.63, 0.79, 1.02, 1.02, 1.02, 0.99, 1.06,
    0.80, 0.80, 0.51, 0.36, 0.25, 0.25, 0.25, 0.09, 0.11, 0.22,
    0.29, 0.45, 0.49, 0.42, 0.40, 0.29, 0.49, 0.41, 0.46, 0.38,
    0.31, 0.29, 0.42, 0.49, 0.49, 0.37, 0.42, 0.27, 0.18, 0.16,
    0.18, 0.18, 0.16, 0.06, 0.06, 0.03, 0.08, 0.08, 0.03, 0.10,
    0.12, 0.16, 0.22, 0.31, 0.37, 0.26, 0.20, 0.10, 0.16, 0.12,
    0.04, 0.10, 0.06, 0.18, 0.26, 0.33, 0.27, 0.37, 0.18, 0.14,
    0.20, 0.22, 0.16, 0.33, 0.39, 0.35, 0.27, 0.22, 0.16, 0.12,
    0.04, 0.03, 0.10, 0.03, 0.01, 0.20, 0.37, 0.46, 0.49, 0.51,
    0.52, 0.49, 0.43, 0.35, 0.31, 0.27, 0.20, 0.12, 0.23, 0.31,
    0.35, 0.45, 0.29, 0.60, 0.49, 0.54, 0.54, 0.60, 0.62, 0.60,
    0.51, 0.51, 0.43, 0.49, 0.39, 0.45, 0.49, 0.41, 0.06, 0.03,
    0.06, 0.03, 0.06, 0.29, 0.31, 0.31, 0.16, 0.03, 0.01, 0.11,
    0.11, 0.06, 0.14, 0.16, 0.29, 0.10, 0.10, 0.56, 0.63, 0.66,
    0.72, 0.64, 0.52, 0.35, 0.70, 0.58, 0.62, 0.60, 0.12, 0.06,
]

# Quantile-regression curves, panel B
qb_diam = [1.00, 1.12, 1.26, 1.41, 1.58, 1.78, 2.00, 2.24, 2.51, 2.82,
           3.16, 3.55, 3.98, 4.47, 5.01, 5.62, 6.31, 7.08, 7.94, 8.91, 10.0]
qb_99 = [1.465, 1.62, 1.78, 1.93, 2.07, 2.23, 2.38, 2.56, 2.77, 2.99,
         3.20, 3.39, 3.56, 3.71, 3.82, 3.90, 3.96, 3.99, 3.96, 3.85, 3.68]
qb_90 = [0.89, 0.96, 1.04, 1.12, 1.22, 1.33, 1.45, 1.57, 1.69, 1.80,
         1.90, 2.00, 2.10, 2.21, 2.34, 2.48, 2.61, 2.72, 2.82, 2.91, 2.98]
qb_75 = [0.32, 0.36, 0.41, 0.46, 0.52, 0.60, 0.68, 0.78, 0.89, 1.00,
         1.11, 1.23, 1.34, 1.45, 1.57, 1.70, 1.82, 1.92, 1.99, 2.02, 2.03]
qb_50 = [0.18, 0.195, 0.215, 0.24, 0.265, 0.30, 0.34, 0.38, 0.43, 0.48,
         0.53, 0.58, 0.64, 0.70, 0.77, 0.84, 0.91, 0.97, 1.04, 1.11, 1.195]
qb_names = ["0.99", "0.90", "0.75", "0.50"]
qb_label_x = 13.1
qb_label_y = [3.69, 2.98, 2.04, 1.215]

# ---------------- Styling ----------------
sns.set_theme(style="ticks")
plt.rcParams["font.family"] = ["Liberation Sans", "DejaVu Sans"]
plt.rcParams["mathtext.fontset"] = "custom"
plt.rcParams["mathtext.rm"] = "Liberation Sans"
plt.rcParams["mathtext.it"] = "Liberation Sans:italic"

POINT_GREY = "#c4c4c4"
SERIF = ["Liberation Serif", "DejaVu Serif"]

fig = plt.figure(figsize=(9.91, 4.58), dpi=100)
fig.patch.set_facecolor("white")
ax_a = fig.add_axes([74 / 991, 79 / 458, 424 / 991, 365 / 458])
ax_b = fig.add_axes([548 / 991, 79 / 458, 424 / 991, 364 / 458])


def draw_panel(ax, dx, gy, qdiam, qcurves):
    sns.scatterplot(x=dx, y=gy, ax=ax, marker="o", s=38, facecolor="none",
                    edgecolor=POINT_GREY, linewidth=0.9, zorder=1, legend=False)
    for qy in qcurves:
        sns.lineplot(x=qdiam, y=qy, ax=ax, color="black", linewidth=1.0,
                     estimator=None, sort=False, zorder=2)
    ax.set_xscale("log")
    ax.minorticks_off()
    ax.set_xlabel("")
    ax.set_ylabel("")
    sns.despine(ax=ax)
    for side in ("left", "bottom"):
        ax.spines[side].set_color("#222222")
        ax.spines[side].set_linewidth(1.0)
    ax.tick_params(axis="both", direction="out", length=5, width=1.0,
                   color="#222222", labelsize=13.5, labelcolor="black")
    ax.tick_params(axis="x", pad=8)
    ax.tick_params(axis="y", pad=7)


draw_panel(ax_a, diam_a + diam_a_core, growth_a + growth_a_core, qa_diam,
           [qa_999, qa_99, qa_90, qa_75, qa_50])
ax_a.set_xlim(0.351, 20)
ax_a.set_ylim(-0.2, 6.3)
ax_a.set_xticks([0.5, 1, 2, 5, 10, 20], ["0.5", "1", "2", "5", "10", "20"])
ax_a.set_yticks([0, 1, 2, 3, 4, 5, 6], ["0", "1", "2", "3", "4", "5", "6"])
for name, yv in zip(qa_names, qa_label_y):
    ax_a.text(qa_label_x, yv, name, ha="center", va="center", family=SERIF,
              fontsize=14.2, zorder=5,
              bbox=dict(facecolor="white", edgecolor="none", pad=0.6))
ax_a.text(0.108, 0.896, "A", transform=ax_a.transAxes, ha="center",
          va="center", fontsize=16)

draw_panel(ax_b, diam_b, growth_b, qb_diam, [qb_99, qb_90, qb_75, qb_50])
ax_b.set_xlim(0.70, 20)
ax_b.set_ylim(-0.2, 4.02)
ax_b.set_xticks([1, 2, 5, 10, 20], ["1", "2", "5", "10", "20"])
ax_b.set_yticks([0, 1, 2, 3, 4], ["0", "1", "2", "3", "4"])
for name, yv in zip(qb_names, qb_label_y):
    ax_b.text(qb_label_x, yv, name, ha="center", va="center", family=SERIF,
              fontsize=14.2, zorder=5)
ax_b.text(0.107, 0.896, "B", transform=ax_b.transAxes, ha="center",
          va="center", fontsize=16)

fig.text(536 / 991, 1 - 443 / 458, "Diameter (cm) [logscale]", ha="center",
         va="center", fontsize=15.5)
fig.text(24 / 991, 1 - 197 / 458, "Diameter growth (cm y$^{-1}$)",
         rotation=90, ha="center", va="center", fontsize=15.5)

fig.savefig("out.png", dpi=100, facecolor="white")
